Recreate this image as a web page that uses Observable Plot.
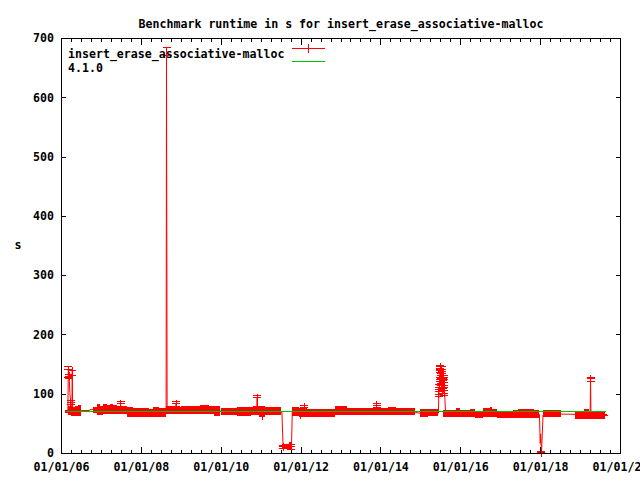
<!DOCTYPE html>
<html>
<head>
<meta charset="utf-8">
<script src="https://cdn.jsdelivr.net/npm/d3@7"></script>
<script src="https://cdn.jsdelivr.net/npm/@observablehq/plot@0.6"></script>
<style>
  html, body { margin: 0; padding: 0; background: white; overflow: hidden; }
</style>
</head>
<body>
<div id="chart"></div>
<script>
// ---------- data ----------
const titleText = "Benchmark runtime in s for insert_erase_associative-malloc";
const seriesNames = ["insert_erase_associative-malloc", "4.1.0"];
const yLabel = "s";

const yTicks = [0, 100, 200, 300, 400, 500, 600, 700];
const xMajorTicks = [2006, 2008, 2010, 2012, 2014, 2016, 2018, 2020];
const xTickLabels = ["01/01/06", "01/01/08", "01/01/10", "01/01/12", "01/01/14", "01/01/16", "01/01/18", "01/01/20"];

// dense error-bar band of the red series: start, end (decimal year), low, high (s)
const bandStart = [2006.10, 2006.17, 2006.24, 2006.31, 2006.36, 2006.42, 2006.81, 2006.89, 2006.97, 2007.05, 2007.14, 2007.22, 2007.30, 2007.40, 2007.55, 2007.65, 2007.80, 2007.98, 2008.20, 2008.30, 2008.45, 2008.64, 2008.80, 2009.00, 2009.20, 2009.48, 2009.70, 2009.82, 2010.00, 2010.40, 2010.75, 2010.95, 2011.03, 2011.10, 2011.54, 2011.70, 2011.78, 2011.95, 2011.98, 2012.15, 2012.40, 2012.70, 2012.86, 2013.16, 2013.60, 2014.20, 2014.40, 2014.99, 2015.20, 2015.57, 2015.90, 2016.00, 2016.25, 2016.37, 2016.58, 2016.74, 2016.80, 2016.91, 2017.33, 2017.45, 2017.85, 2018.07, 2018.87, 2019.10, 2019.22, 2019.62];
const bandEnd   = [2006.17, 2006.24, 2006.31, 2006.36, 2006.42, 2006.50, 2006.89, 2006.97, 2007.05, 2007.14, 2007.22, 2007.30, 2007.40, 2007.55, 2007.65, 2007.80, 2007.98, 2008.20, 2008.30, 2008.45, 2008.62, 2008.80, 2009.00, 2009.20, 2009.48, 2009.70, 2009.82, 2009.98, 2010.40, 2010.75, 2010.95, 2011.10, 2011.06, 2011.50, 2011.70, 2011.78, 2011.95, 2012.15, 2012.01, 2012.40, 2012.70, 2012.86, 2013.16, 2013.60, 2014.20, 2014.40, 2014.87, 2015.20, 2015.43, 2015.90, 2016.00, 2016.25, 2016.37, 2016.58, 2016.74, 2016.80, 2016.91, 2017.33, 2017.45, 2017.85, 2017.96, 2018.52, 2019.10, 2019.22, 2019.62, 2019.68];
const bandLow   = [68, 64, 62, 63, 63, 62, 67, 64, 64, 66, 66, 66, 66, 66, 65, 61, 60, 61, 60, 61, 61, 66, 65, 66, 65, 66, 65, 62, 64, 63, 64, 61, 56, 64, 6, 6, 62, 61, 58, 61, 61, 61, 64, 64, 64, 64, 64, 61, 62, 60, 60, 60, 60, 58.5, 60, 60, 60, 58.5, 58.5, 58.5, 58.5, 60, 57, 57, 57, 62];
const bandHigh  = [72.5, 79, 80, 77, 79, 81, 78, 82, 80, 83, 81, 83, 81, 79, 80, 77, 76, 76, 75, 77, 76, 79, 78, 80, 79, 81, 80, 80, 76, 77, 78, 79, 64, 78, 16, 18, 77, 76, 62, 74, 75, 74, 79, 76, 76, 78, 76, 75, 74, 72.5, 76, 72.5, 74, 71, 76, 78, 74, 71, 73, 75, 72, 72.5, 71, 75, 71, 66];

// connecting line of the red series (key points, incl. spikes and dips)
const lineYear = [2006.10, 2006.16, 2006.17, 2006.19, 2006.21, 2006.23, 2006.26, 2006.27, 2006.28, 2006.50, 2006.70, 2006.71, 2006.81, 2006.82, 2007.47, 2007.48, 2007.49, 2008.62, 2008.63, 2008.645, 2008.86, 2008.87, 2008.88, 2010.89, 2010.90, 2010.91, 2011.52, 2011.55, 2011.76, 2011.78, 2012.07, 2012.08, 2012.09, 2013.88, 2013.89, 2013.90, 2014.87, 2014.99, 2015.44, 2015.45, 2015.46, 2015.47, 2015.48, 2015.49, 2015.50, 2015.51, 2015.52, 2015.53, 2015.54, 2015.55, 2015.56, 2015.57, 2015.58, 2015.59, 2015.60, 2015.62, 2017.97, 2017.99, 2018.00, 2018.02, 2018.04, 2018.06, 2018.52, 2018.87, 2019.24, 2019.25, 2019.26, 2019.68];
const lineValue = [70, 71, 141, 130, 103, 86, 72, 140, 72, 72.5, 72.5, 74, 74, 72, 72, 84, 72, 71, 671, 71, 72, 84, 72, 71, 94, 71, 70, 11, 11, 70, 70, 78, 70, 70, 81, 70, 69, 68, 68, 100, 112, 125, 140, 146, 131, 118, 142, 106, 135, 123, 110, 128, 102, 115, 95, 66, 66, 17, 33, 1, 30, 65, 66.5, 66, 66, 126, 66, 64];

// points drawn with a "+" marker (visible outliers)
const markYear  = [2006.17, 2006.19, 2006.23, 2006.27, 2007.48, 2008.63, 2008.87, 2010.90, 2011.55, 2011.76, 2012.08, 2013.89, 2015.45, 2015.46, 2015.47, 2015.48, 2015.49, 2015.50, 2015.51, 2015.52, 2015.53, 2015.54, 2015.55, 2015.56, 2015.57, 2015.58, 2015.59, 2018.02, 2019.25];
const markValue = [141, 130, 86, 140, 84, 671, 84, 94, 11, 11, 78, 81, 100, 112, 125, 140, 146, 131, 118, 142, 106, 135, 123, 110, 128, 102, 115, 1, 126];

// error bars of those points: low, high
const errLow  = [128, 126, 82, 132, 80, 671, 80, 80, 8, 7, 74, 77, 96, 108, 121, 136, 142, 127, 114, 138, 102, 131, 119, 106, 124, 98, 111, 0, 122];
const errHigh = [147, 134, 90, 140, 88, 684, 87, 98, 14, 15, 81, 84, 104, 116, 129, 144, 149, 135, 122, 146, 110, 139, 127, 114, 132, 106, 119, 3, 128];

// second series "4.1.0"
const refYear  = [2006.13, 2019.62];
const refValue = [70.5, 70.5];

// ---------- build tables ----------
const bands = bandStart.map((t0, i) => ({t0, t1: bandEnd[i], lo: bandLow[i], hi: bandHigh[i]}));
const lineRows = lineYear.map((t, i) => ({t, v: lineValue[i]}));
const markRows = markYear.map((t, i) => ({t, v: markValue[i], lo: errLow[i], hi: errHigh[i]}));
const capRows = markRows.flatMap(d => [{t: d.t, v: d.lo}, {t: d.t, v: d.hi}]);
const refRows = refYear.map((t, i) => ({t, v: refValue[i]}));
const labelOf = new Map(xMajorTicks.map((d, i) => [d, xTickLabels[i]]));
const xMinorTicks = d3.range(2006, 2020.001, 0.25);

const RED = "#ff0000", GREEN = "#00c000";
const plusSymbol = {draw(c) { c.moveTo(-4, 0); c.lineTo(4, 0); c.moveTo(0, -4); c.lineTo(0, 4); }};
const capSymbol = {draw(c) { c.moveTo(-4, 0); c.lineTo(4, 0); }};
const blank = () => "";

const chart = Plot.plot({
  width: 640,
  height: 480,
  marginLeft: 61,
  marginRight: 20,
  marginTop: 38,
  marginBottom: 27,
  x: {type: "linear", domain: [2006, 2020]},
  y: {type: "linear", domain: [0, 700]},
  style: {
    fontFamily: "'DejaVu Sans Mono', 'Liberation Mono', monospace",
    fontSize: "11.6px",
    fontWeight: "bold",
    background: "white",
    color: "black",
    overflow: "hidden"
  },
  marks: [
    Plot.rect(bands, {x1: "t0", x2: "t1", y1: "lo", y2: "hi", fill: RED, shapeRendering: "crispEdges"}),
    Plot.line(lineRows, {x: "t", y: "v", stroke: RED, strokeWidth: 1}),
    Plot.ruleX(markRows, {x: "t", y1: "lo", y2: "hi", stroke: RED, strokeWidth: 1, shapeRendering: "crispEdges"}),
    Plot.dot(capRows, {x: "t", y: "v", symbol: capSymbol, stroke: RED, fill: "none", strokeWidth: 1, shapeRendering: "crispEdges"}),
    Plot.dot(markRows, {x: "t", y: "v", symbol: plusSymbol, stroke: RED, fill: "none", strokeWidth: 1, shapeRendering: "crispEdges"}),
    Plot.line(refRows, {x: "t", y: "v", stroke: GREEN, strokeWidth: 1, shapeRendering: "crispEdges"}),
    Plot.frame({stroke: "black", shapeRendering: "crispEdges"}),
    // x axis: labels + inward ticks (bottom & mirrored top)
    Plot.axisX(xMajorTicks, {anchor: "bottom", tickSize: 0, tickPadding: 9.5, tickFormat: d => labelOf.get(d), label: null}),
    Plot.axisX(xMajorTicks, {anchor: "bottom", tickSize: -6, tickFormat: blank, label: null, shapeRendering: "crispEdges"}),
    Plot.axisX(xMinorTicks, {anchor: "bottom", tickSize: -3, tickFormat: blank, label: null, shapeRendering: "crispEdges"}),
    Plot.axisX(xMajorTicks, {anchor: "top", tickSize: -6, tickFormat: blank, label: null, shapeRendering: "crispEdges"}),
    Plot.axisX(xMinorTicks, {anchor: "top", tickSize: -3, tickFormat: blank, label: null, shapeRendering: "crispEdges"}),
    // y axis: labels + inward ticks (left & mirrored right)
    Plot.axisY(yTicks, {anchor: "left", tickSize: 0, tickPadding: 7.5, label: null}),
    Plot.axisY(yTicks, {anchor: "left", tickSize: -5, tickFormat: blank, label: null, shapeRendering: "crispEdges"}),
    Plot.axisY(yTicks, {anchor: "right", tickSize: -5, tickFormat: blank, label: null, shapeRendering: "crispEdges"}),
    // title, y label, legend text
    Plot.text([titleText], {text: d => d, frameAnchor: "top", dy: -19, fill: "black"}),
    Plot.text([yLabel], {text: d => d, frameAnchor: "left", dx: -47, dy: -1, fill: "black"}),
    Plot.text(seriesNames, {text: d => d, frameAnchor: "top-left", textAnchor: "start", dx: 6.5, fill: "black", filter: (d, i) => i === 0, dy: 11}),
    Plot.text(seriesNames, {text: d => d, frameAnchor: "top-left", textAnchor: "start", dx: 6.5, fill: "black", filter: (d, i) => i === 1, dy: 25})
  ]
});

// legend samples (layout only)
const svg = d3.select(chart);
const leg = svg.append("g").attr("shape-rendering", "crispEdges").attr("fill", "none");
leg.append("line").attr("x1", 292).attr("x2", 325).attr("y1", 48.5).attr("y2", 48.5).attr("stroke", RED);
leg.append("line").attr("x1", 308.5).attr("x2", 308.5).attr("y1", 44).attr("y2", 53).attr("stroke", RED);
leg.append("line").attr("x1", 292).attr("x2", 325).attr("y1", 61.5).attr("y2", 61.5).attr("stroke", GREEN);

document.getElementById("chart").appendChild(chart);
</script>
</body>
</html>
